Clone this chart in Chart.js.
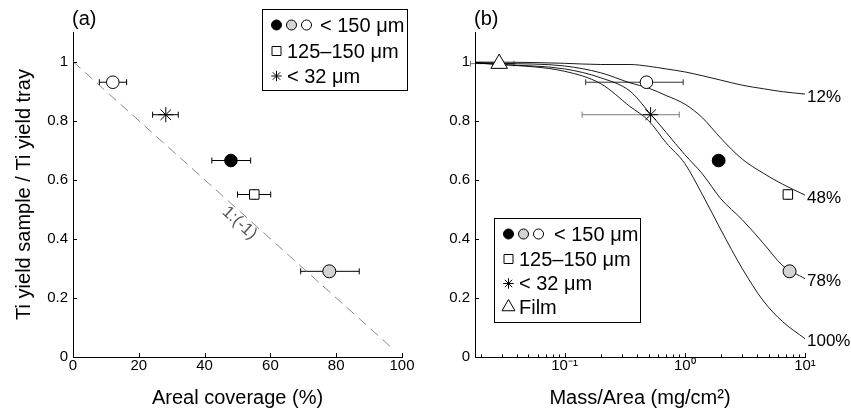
<!DOCTYPE html>
<html>
<head>
<meta charset="utf-8">
<script src="https://cdn.jsdelivr.net/npm/chart.js@4.4.1/dist/chart.umd.min.js"></script>
<style>
html, body { margin: 0; padding: 0; background: #fff; }
#wrap { position: relative; width: 851px; height: 416px; background: #fff; overflow: hidden; }
canvas { position: absolute; top: 0; }
#ca { left: 0; }
#cb { left: 420px; }
</style>
</head>
<body>
<div id="wrap">
  <canvas id="ca" width="420" height="416"></canvas>
  <canvas id="cb" width="431" height="416"></canvas>
</div>
<script>
// ---------------- data ----------------
const coverageTicks = [0, 20, 40, 60, 80, 100];
const yieldTicks = [0, 0.2, 0.4, 0.6, 0.8, 1];
const massDecades = [0.1, 1, 10];
const massDecadeLabels = ['10\u207b\u00b9', '10\u2070', '10\u00b9'];

// samples: white circle, star, black circle, square, grey circle
const sampleLabels = ['< 150 \u03bcm (white)', '< 32 \u03bcm', '< 150 \u03bcm (black)', '125\u2013150 \u03bcm', '< 150 \u03bcm (grey)'];
const coverage = [12.1, 28.2, 48.0, 55.1, 77.9];
const coverageLow = [8.0, 24.2, 42.2, 50.0, 69.2];
const coverageHigh = [16.3, 32.0, 54.0, 60.1, 87.0];
const yieldRatio = [0.93, 0.82, 0.665, 0.55, 0.29];
const yieldLow = [0.93, 0.82, 0.665, 0.535, 0.29];
const yieldHigh = [0.93, 0.82, 0.665, 0.565, 0.29];

const oneToOneX = [0, 97];
const oneToOneY = [1, 0.03];
const oneToOneText = '1:(-1)';

const massArea = [0.48, 0.52, 1.91, 7.2, 7.44];
const massLow = [0.15, 0.14, 1.72, 7.2, 7.44];
const massHigh = [0.97, 0.90, 2.15, 7.2, 7.44];

const filmMass = 0.0286;
const filmMassLow = 0.0165;
const filmMassHigh = 0.038;
const filmYield = 0.993;
const filmYieldLow = 0.978;
const filmYieldHigh = 1.0;

const curveMass = [0.018, 0.03, 0.1, 0.2, 0.35, 0.5, 0.7, 1.0, 1.4, 2.0, 3.0, 4.5, 6.5, 10];
const curve12  = [0.998, 0.998, 0.994, 0.99, 0.99, 0.984, 0.975, 0.965, 0.952, 0.937, 0.92, 0.908, 0.898, 0.89];
const curve48  = [0.997, 0.994, 0.985, 0.962, 0.928, 0.91, 0.885, 0.856, 0.81, 0.74, 0.67, 0.622, 0.585, 0.548];
const curve78  = [0.995, 0.99, 0.975, 0.945, 0.9, 0.83, 0.76, 0.685, 0.62, 0.535, 0.465, 0.385, 0.31, 0.265];
const curve100 = [0.995, 0.99, 0.967, 0.925, 0.848, 0.80, 0.725, 0.655, 0.55, 0.43, 0.30, 0.19, 0.12, 0.062];
const curveLabels = ['12%', '48%', '78%', '100%'];

// ---------------- styles ----------------
const FONT = '"Liberation Sans", Arial, Helvetica, sans-serif';
Chart.defaults.font.family = FONT;
Chart.defaults.color = '#000';

const markerStyles = [
  { style: 'circle', fill: '#ffffff', r: 6.3 },
  { style: 'star', fill: '#000000', r: 7.5 },
  { style: 'circle', fill: '#000000', r: 6.3 },
  { style: 'rect', fill: '#ffffff', r: 6.7 },
  { style: 'circle', fill: '#d3d3d3', r: 6.5 }
];
const errColorsA = ['#000', '#000', '#000', '#000', '#000'];
const errColorsB = ['#333', '#7a7a7a', '#000', '#000', '#000'];

function drawMarker(ctx, style, x, y, r, fill) {
  ctx.save();
  ctx.lineWidth = 1;
  ctx.strokeStyle = '#000';
  ctx.fillStyle = fill;
  ctx.beginPath();
  if (style === 'circle') {
    ctx.arc(x, y, r, 0, Math.PI * 2);
    ctx.fill(); ctx.stroke();
  } else if (style === 'rect') {
    ctx.rect(x - r, y - r, 2 * r, 2 * r);
    ctx.fill(); ctx.stroke();
  } else if (style === 'star') {
    const d = r * Math.SQRT1_2;
    ctx.moveTo(x - r, y); ctx.lineTo(x + r, y);
    ctx.moveTo(x, y - r); ctx.lineTo(x, y + r);
    ctx.moveTo(x - d, y - d); ctx.lineTo(x + d, y + d);
    ctx.moveTo(x - d, y + d); ctx.lineTo(x + d, y - d);
    ctx.stroke();
  } else if (style === 'triangle') {
    for (let k = 0; k < 3; k++) {
      const a = -Math.PI / 2 + k * 2 * Math.PI / 3;
      const px = x + r * Math.cos(a), py = y + r * Math.sin(a);
      if (k === 0) ctx.moveTo(px, py); else ctx.lineTo(px, py);
    }
    ctx.closePath();
    ctx.fill(); ctx.stroke();
  }
  ctx.restore();
}

function drawErrorBar(ctx, xs, ys, ds) {
  const p = ds.data[0];
  const px = xs.getPixelForValue(p.x), py = ys.getPixelForValue(p.y);
  ctx.save();
  ctx.strokeStyle = ds.errColor;
  ctx.lineWidth = 1;
  ctx.beginPath();
  if (ds.errX && ds.errX[0] !== ds.errX[1]) {
    const a = xs.getPixelForValue(ds.errX[0]), b = xs.getPixelForValue(ds.errX[1]);
    ctx.moveTo(a, py); ctx.lineTo(b, py);
    ctx.moveTo(a, py - 3); ctx.lineTo(a, py + 3);
    ctx.moveTo(b, py - 3); ctx.lineTo(b, py + 3);
  }
  if (ds.errY && ds.errY[0] !== ds.errY[1]) {
    const a = ys.getPixelForValue(ds.errY[0]), b = ys.getPixelForValue(ds.errY[1]);
    ctx.moveTo(px, a); ctx.lineTo(px, b);
    ctx.moveTo(px - 2, a); ctx.lineTo(px + 2, a);
    ctx.moveTo(px - 2, b); ctx.lineTo(px + 2, b);
  }
  ctx.stroke();
  ctx.restore();
}

const decoPlugin = {
  id: 'deco',
  beforeDatasetsDraw(chart) {
    const ctx = chart.ctx, xs = chart.scales.x, ys = chart.scales.y;
    chart.data.datasets.forEach(ds => { if (ds.errX || ds.errY) drawErrorBar(ctx, xs, ys, ds); });
  },
  afterDraw(chart, args, opts) {
    const ctx = chart.ctx, xs = chart.scales.x, ys = chart.scales.y, ca = chart.chartArea;
    ctx.save();
    ctx.strokeStyle = '#000';
    ctx.lineWidth = 1;
    ctx.beginPath();
    // inward ticks
    opts.yTicks.forEach(v => {
      const py = Math.round(ys.getPixelForValue(v)) + 0.5;
      ctx.moveTo(ca.left, py); ctx.lineTo(ca.left + 4, py);
    });
    opts.xTicks.forEach(v => {
      const px = Math.round(xs.getPixelForValue(v)) + 0.5;
      ctx.moveTo(px, ca.bottom); ctx.lineTo(px, ca.bottom - 4);
    });
    if (opts.log) {
      [0.01, 0.1, 1].forEach(dec => {
        for (let k = 2; k <= 9; k++) {
          const v = k * dec;
          if (v < xs.min || v > xs.max) continue;
          const px = Math.round(xs.getPixelForValue(v)) + 0.5;
          ctx.moveTo(px, ca.bottom); ctx.lineTo(px, ca.bottom - 2.5);
        }
      });
    }
    ctx.stroke();

    // panel label
    ctx.fillStyle = '#000';
    ctx.font = '20px ' + FONT;
    ctx.textAlign = 'left';
    ctx.textBaseline = 'middle';
    ctx.fillText(opts.panel, ca.left - 1, 19);

    // 1:(-1) label
    if (opts.lineLabel) {
      const x1 = xs.getPixelForValue(oneToOneX[0]), y1 = ys.getPixelForValue(oneToOneY[0]);
      const x2 = xs.getPixelForValue(oneToOneX[1]), y2 = ys.getPixelForValue(oneToOneY[1]);
      const ang = Math.atan2(y2 - y1, x2 - x1);
      const ax = xs.getPixelForValue(opts.lineLabel.at[0]), ay = ys.getPixelForValue(opts.lineLabel.at[1]);
      const nx = -Math.sin(ang), ny = Math.cos(ang);
      ctx.save();
      ctx.translate(ax + nx * opts.lineLabel.off, ay + ny * opts.lineLabel.off);
      ctx.rotate(ang);
      ctx.fillStyle = '#555';
      ctx.font = '17px ' + FONT;
      ctx.textAlign = 'center';
      ctx.textBaseline = 'middle';
      ctx.fillText(oneToOneText, 0, 0);
      ctx.restore();
    }

    // curve end labels
    if (opts.curveLabels) {
      ctx.font = '17px ' + FONT;
      ctx.textAlign = 'left';
      ctx.textBaseline = 'middle';
      ctx.fillStyle = '#000';
      chart.data.datasets.forEach(ds => {
        if (!ds.endLabel) return;
        const last = ds.data[ds.data.length - 1];
        const px = xs.getPixelForValue(last.x), py = ys.getPixelForValue(last.y);
        ctx.fillText(ds.endLabel, px + 2, py + 3);
      });
    }

    // legend
    const L = opts.legend;
    ctx.fillStyle = '#fff';
    ctx.fillRect(L.x, L.y, L.w, L.h);
    ctx.strokeStyle = '#000';
    ctx.lineWidth = 1;
    ctx.strokeRect(L.x + 0.5, L.y + 0.5, L.w, L.h);
    ctx.font = '20px ' + FONT;
    ctx.fillStyle = '#000';
    ctx.textAlign = 'left';
    ctx.textBaseline = 'middle';
    L.rows.forEach(row => {
      row.marks.forEach(m => drawMarker(ctx, m.style, L.x + m.dx, L.y + row.dy, m.r, m.fill));
      ctx.fillStyle = '#000';
      ctx.fillText(row.text, L.x + row.tx, L.y + row.dy + 1);
    });
    ctx.restore();
  }
};

function legendRows(withFilm) {
  const rows = [
    { dy: 16, tx: 58, text: '< 150 \u03bcm', marks: [
      { style: 'circle', dx: 14.5, r: 5, fill: '#000' },
      { style: 'circle', dx: 29.5, r: 5, fill: '#d3d3d3' },
      { style: 'circle', dx: 44.5, r: 5, fill: '#fff' } ] },
    { dy: 42, tx: 25, text: '125\u2013150 \u03bcm', marks: [ { style: 'rect', dx: 14.5, r: 4.5, fill: '#fff' } ] },
    { dy: 67, tx: 25, text: '< 32 \u03bcm', marks: [ { style: 'star', dx: 14.5, r: 5.2, fill: '#000' } ] }
  ];
  if (withFilm) {
    rows[0].tx = 60;
    rows[0].dy = 16; rows[1].dy = 41; rows[2].dy = 65.5;
    rows.push({ dy: 89, tx: 25, text: 'Film', marks: [ { style: 'triangle', dx: 14.5, r: 7.5, fill: '#fff' } ] });
  }
  return rows;
}

function axisCommon() {
  return {
    grid: { display: false, drawTicks: false },
    border: { display: true, color: '#000', width: 1 }
  };
}
const fmtYield = v => String(Math.round(v * 10) / 10);

// ---------------- panel (a) ----------------
const dsA = coverage.map((c, i) => ({
  label: sampleLabels[i],
  data: [{ x: c, y: yieldRatio[i] }],
  pointStyle: markerStyles[i].style,
  pointRadius: markerStyles[i].r,
  pointBackgroundColor: markerStyles[i].fill,
  pointBorderColor: '#000',
  pointBorderWidth: 1,
  showLine: false,
  errX: [coverageLow[i], coverageHigh[i]],
  errY: [yieldLow[i], yieldHigh[i]],
  errColor: errColorsA[i],
  order: 0
}));
dsA.push({
  label: oneToOneText,
  data: oneToOneX.map((x, i) => ({ x: x, y: oneToOneY[i] })),
  showLine: true, borderColor: '#8a8a8a', borderWidth: 1, borderDash: [10, 6],
  pointRadius: 0, fill: false, order: 5
});

new Chart(document.getElementById('ca'), {
  type: 'scatter',
  data: { datasets: dsA },
  plugins: [decoPlugin],
  options: {
    responsive: false, animation: false, devicePixelRatio: 1,
    layout: { padding: { left: 0, top: 32, right: 18, bottom: 0 } },
    plugins: {
      legend: { display: false }, tooltip: { enabled: false },
      deco: {
        panel: '(a)', yTicks: yieldTicks, xTicks: coverageTicks, log: false,
        lineLabel: { at: [52.4, 0.476], off: 9 },
        legend: { x: 262, y: 9, w: 145, h: 81, rows: legendRows(false) }
      }
    },
    scales: {
      x: Object.assign(axisCommon(), {
        type: 'linear', min: 0, max: 100,
        afterFit(s) { s.height = 59; },
        afterBuildTicks(s) { s.ticks = coverageTicks.map(v => ({ value: v })); },
        ticks: { padding: 0, font: { size: 15 }, color: '#000', maxRotation: 0, autoSkip: false },
        title: { display: true, text: 'Areal coverage (%)', font: { size: 20 }, color: '#000', padding: { top: 0, bottom: 6 } }
      }),
      y: Object.assign(axisCommon(), {
        type: 'linear', min: 0, max: 1.1,
        afterFit(s) { s.width = 73; },
        afterBuildTicks(s) { s.ticks = yieldTicks.map(v => ({ value: v })); },
        ticks: { padding: 5, font: { size: 15 }, color: '#000', callback: fmtYield },
        title: { display: true, text: 'Ti yield sample / Ti yield tray', font: { size: 20 }, color: '#000', padding: { top: 12, bottom: 0 } }
      })
    }
  }
});

// ---------------- panel (b) ----------------
const dsB = massArea.map((m, i) => ({
  label: sampleLabels[i],
  data: [{ x: m, y: yieldRatio[i] }],
  pointStyle: markerStyles[i].style,
  pointRadius: markerStyles[i].r,
  pointBackgroundColor: markerStyles[i].fill,
  pointBorderColor: '#000',
  pointBorderWidth: 1,
  showLine: false,
  errX: [massLow[i], massHigh[i]],
  errY: [yieldLow[i], yieldHigh[i]],
  errColor: errColorsB[i],
  order: 0
}));
dsB.push({
  label: 'Film',
  data: [{ x: filmMass, y: filmYield }],
  pointStyle: 'triangle', pointRadius: 9.5,
  pointBackgroundColor: '#fff', pointBorderColor: '#000', pointBorderWidth: 1,
  showLine: false,
  errX: [filmMassLow, filmMassHigh], errY: [filmYieldLow, filmYieldHigh], errColor: '#7a7a7a',
  order: 0
});
[curve12, curve48, curve78, curve100].forEach((c, k) => {
  dsB.push({
    label: curveLabels[k], endLabel: curveLabels[k],
    data: curveMass.map((m, i) => ({ x: m, y: c[i] })),
    showLine: true, borderColor: '#000', borderWidth: 0.9,
    pointRadius: 0, fill: false, cubicInterpolationMode: 'monotone', order: 5
  });
});

new Chart(document.getElementById('cb'), {
  type: 'scatter',
  data: { datasets: dsB },
  plugins: [decoPlugin],
  options: {
    responsive: false, animation: false, devicePixelRatio: 1,
    layout: { padding: { left: 0, top: 32, right: 46, bottom: 0 } },
    plugins: {
      legend: { display: false }, tooltip: { enabled: false },
      deco: {
        panel: '(b)', yTicks: yieldTicks, xTicks: massDecades, log: true,
        curveLabels: true,
        legend: { x: 74, y: 218, w: 146, h: 104, rows: legendRows(true) }
      }
    },
    scales: {
      x: Object.assign(axisCommon(), {
        type: 'logarithmic', min: 0.018, max: 10,
        afterFit(s) { s.height = 59; },
        afterBuildTicks(s) { s.ticks = massDecades.map(v => ({ value: v, major: true })); },
        ticks: {
          padding: 0, font: { size: 15 }, color: '#000', maxRotation: 0, autoSkip: false,
          callback: (v, i) => massDecadeLabels[i]
        },
        title: { display: true, text: 'Mass/Area (mg/cm\u00b2)', font: { size: 20 }, color: '#000', padding: { top: 0, bottom: 6 } }
      }),
      y: Object.assign(axisCommon(), {
        type: 'linear', min: 0, max: 1.1,
        afterFit(s) { s.width = 55; },
        afterBuildTicks(s) { s.ticks = yieldTicks.map(v => ({ value: v })); },
        ticks: { padding: 5, font: { size: 15 }, color: '#000', callback: fmtYield }
      })
    }
  }
});
</script>
</body>
</html>
